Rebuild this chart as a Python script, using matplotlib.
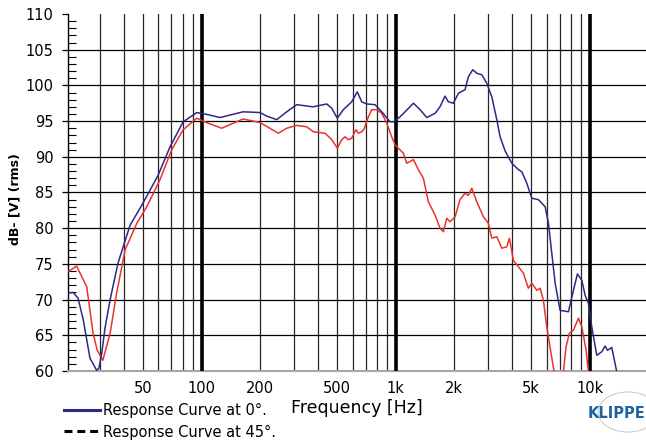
import matplotlib
matplotlib.use("Agg")
import matplotlib.pyplot as plt
from matplotlib.lines import Line2D
from matplotlib.patches import Ellipse
import numpy as np

# ---- data ----
freq_0 = [20.5, 21.8, 23.1, 24.6, 26.6, 28.8, 29.6, 30.6, 31.8, 33.8, 37.1, 42.8, 49.9, 59.7,
          68.8, 80.4, 94.5, 108, 124.5, 163.7, 200, 216.8, 244, 274.9, 309.6, 375.8, 441.9,
          469, 501, 538, 594, 635, 669, 710, 784, 849, 937, 975, 1054, 1119, 1236, 1337,
          1449, 1600, 1694, 1799, 1871, 1986, 2108, 2281, 2372, 2500, 2622, 2781, 2952,
          3133, 3325, 3458, 3672, 3974, 4297, 4476, 4747, 5036, 5447, 5902, 6138, 6385,
          6643, 7047, 7780, 8256, 8656, 9120, 9485, 9863, 10260, 10890, 11560, 12020,
          12360, 13010, 13800, 14400]
spl_0 = [70.9, 71.0, 70.2, 67.1, 61.8, 60.1, 60.4, 62.5, 66.0, 70.0, 75.1, 80.4, 83.5, 87.4,
         91.4, 94.9, 96.2, 95.9, 95.5, 96.3, 96.2, 95.7, 95.2, 96.3, 97.3, 97.0, 97.4,
         96.8, 95.4, 96.6, 97.7, 99.1, 97.7, 97.4, 97.3, 96.3, 94.9, 94.9, 95.6, 96.3, 97.5, 96.6,
         95.5, 96.1, 97.0, 98.5, 97.7, 97.5, 98.9, 99.4, 101.2, 102.2, 101.7, 101.5, 100.3,
         98.4, 95.2, 92.8, 90.8, 89.1, 88.2, 87.9, 86.3, 84.2, 84.0, 83.0, 80.7, 76.5,
         72.3, 68.5, 68.3, 71.3, 73.6, 72.7, 70.6, 69.5, 66.2, 62.2, 62.7, 63.5,
         62.9, 63.3, 59.9, 57.0]

freq_45 = [20.5, 22.7, 25.6, 27.6, 29.0, 31.0, 33.8, 36.5, 40.4, 46.4, 52.2, 61.1, 70.2, 80.4,
           94.5, 108.4, 127, 163.8, 200, 248.8, 274.9, 309.6, 348.6, 376.9, 433.5, 469, 501,
           528, 549, 571, 594, 625, 643, 669, 688, 724, 754, 800, 849, 901, 955, 994, 1033,
           1097, 1142, 1236, 1311, 1391, 1476, 1600, 1694, 1763, 1836, 1909, 2027, 2149,
           2281, 2372, 2470, 2622, 2836, 3006, 3133, 3325, 3527, 3743, 3861, 4049, 4557,
           4834, 5036, 5346, 5559, 5781, 6013, 6561, 6900, 7328, 7563, 7870, 8256, 8756,
           9120, 9594, 9863, 10150]
spl_45 = [73.9, 74.7, 71.8, 65.3, 62.9, 61.5, 65.3, 70.9, 77.0, 80.7, 83.0, 86.8, 91.0, 93.8,
          95.4, 94.7, 94.0, 95.3, 94.8, 93.3, 94.0, 94.4, 94.2, 93.5, 93.3, 92.4, 91.2,
          92.4, 92.8, 92.4, 92.6, 93.8, 93.3, 93.5, 93.9, 95.6, 96.6, 96.6, 96.1, 94.7, 92.8, 91.7, 91.2,
          90.5, 89.1, 89.6, 88.2, 87.0, 83.7, 81.8, 80.0, 79.5, 81.4, 80.9, 81.6, 84.0,
          84.9, 84.6, 85.6, 83.7, 81.6, 80.7, 78.6, 78.8, 77.2, 77.4, 78.6, 75.5, 73.7,
          71.6, 72.3, 71.3, 71.6, 69.9, 66.2, 59.9, 55.0, 59.9, 63.4, 65.3, 65.7, 67.4,
          66.2, 62.9, 59.9, 56.0]

xtick_vals = [50, 100, 200, 500, 1000, 2000, 5000, 10000]
xtick_labels = ["50", "100", "200", "500", "1k", "2k", "5k", "10k"]
ytick_vals = list(range(60, 111, 5))
legend_labels = ["Response Curve at 0°.", "Response Curve at 45°."]

BLUE = "#2b2a86"
RED = "#e8342c"

plt.rcParams['font.family'] = ['DejaVu Sans']

fig = plt.figure(figsize=(6.46, 4.46), dpi=100)
ax = fig.add_axes([68 / 646, 1 - 371 / 446, 580 / 646, 357 / 446])

ax.plot(freq_0, spl_0, color=BLUE, lw=1.1, zorder=5, solid_joinstyle='round')
ax.plot(freq_45, spl_45, color=RED, lw=1.1, zorder=4, solid_joinstyle='round')

ax.set_xscale('log')
ax.set_xlim(20.5, 20000)
ax.set_ylim(60, 110)

# x ticks / grid
minor_x = [m * d for d in (10, 100, 1000, 10000) for m in range(2, 10)
           if 20.5 < m * d <= 20000 and m * d not in xtick_vals]
ax.set_xticks(xtick_vals)
ax.set_xticklabels(xtick_labels)
ax.set_xticks(minor_x, minor=True)
ax.xaxis.set_minor_formatter(matplotlib.ticker.NullFormatter())
ax.tick_params(axis='x', which='both', length=0, pad=7, labelsize=10.5)
ax.grid(axis='x', which='both', color='0.15', lw=0.9)
for d in (100, 1000, 10000):
    ax.axvline(d, color='black', lw=2.6, zorder=3)

# y ticks / grid
ax.set_yticks(ytick_vals)
ax.set_yticks(np.arange(60, 111, 1), minor=True)
ax.tick_params(axis='y', which='major', direction='out', length=4.5, width=0.9, pad=6, labelsize=10.5)
ax.tick_params(axis='y', which='minor', direction='in', length=5.5, width=0.8)
ax.grid(axis='y', which='major', color='black', lw=0.9)
ygl = ax.get_ygridlines()
ygl[0].set_visible(False)
ygl[-1].set_visible(False)

for s in ('top', 'right'):
    ax.spines[s].set_visible(False)
ax.spines['left'].set_color('black')
ax.spines['left'].set_linewidth(1.0)
ax.spines['bottom'].set_color('0.65')
ax.spines['bottom'].set_linewidth(1.5)

ax.set_ylabel("dB- [V] (rms)", fontsize=9, fontweight='bold')
ax.yaxis.set_label_coords(-0.081, 0.482)
fig.text(357 / 646, 1 - 408 / 446, "Frequency [Hz]", fontsize=12.5, ha='center', va='center')

handles = [Line2D([], [], color=BLUE, lw=2.2),
           Line2D([], [], color='black', lw=2.2, ls=(0, (2.6, 1.6)))]
fig.legend(handles, legend_labels, loc='upper left', bbox_to_anchor=(64 / 646, 1 - 403 / 446),
           frameon=False, fontsize=10.5, handlelength=2.5, handletextpad=0.2,
           labelspacing=0.45, borderpad=0, borderaxespad=0)

fig.patches.append(Ellipse((628 / 646, 1 - 412 / 446), 60 / 646, 40 / 446,
                           transform=fig.transFigure, fill=False, ec='0.8', lw=0.8))
fig.text(588 / 646, 1 - 413 / 446, "KLIPPEL", fontsize=10.5, fontweight='bold',
         color='#1c63a0', ha='left', va='center')

fig.savefig("out.png", dpi=100)
